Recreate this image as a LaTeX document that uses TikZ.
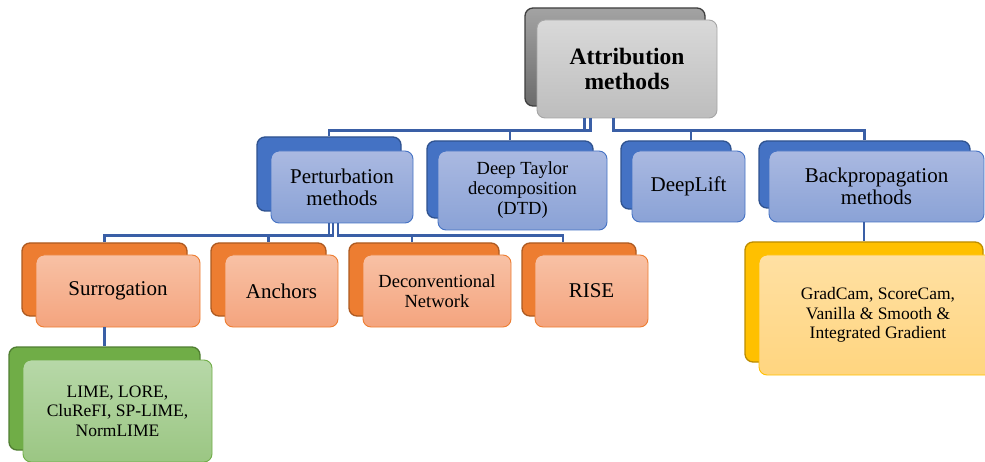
\documentclass[tikz,border=0pt]{standalone}
\usepackage{fontspec}
\setmainfont{LiberationSerif}[Extension=.ttf, UprightFont=*-Regular, BoldFont=*-Bold, ItalicFont=*-Italic, BoldItalicFont=*-BoldItalic]
\usetikzlibrary{calc,positioning}
\definecolor{greyhi}{HTML}{A3A3A3}
\definecolor{greyback}{HTML}{6B6B6B}
\definecolor{greyline}{HTML}{3F3F3F}
\definecolor{greytop}{HTML}{D9D9D9}
\definecolor{greybot}{HTML}{BDBDBD}
\definecolor{greyrim}{HTML}{A5A5A5}
\definecolor{bluehi}{HTML}{4472C4}
\definecolor{blueback}{HTML}{4472C4}
\definecolor{blueline}{HTML}{2F528F}
\definecolor{bluetop}{HTML}{AAB9E1}
\definecolor{bluebot}{HTML}{8AA2D6}
\definecolor{bluerim}{HTML}{4472C4}
\definecolor{orangehi}{HTML}{ED7D31}
\definecolor{orangeback}{HTML}{ED7D31}
\definecolor{orangeline}{HTML}{AE5A21}
\definecolor{orangetop}{HTML}{F8C1A5}
\definecolor{orangebot}{HTML}{F4A47E}
\definecolor{orangerim}{HTML}{ED7D31}
\definecolor{greenhi}{HTML}{70AD47}
\definecolor{greenback}{HTML}{70AD47}
\definecolor{greenline}{HTML}{507E32}
\definecolor{greentop}{HTML}{B7D8A8}
\definecolor{greenbot}{HTML}{9BC683}
\definecolor{greenrim}{HTML}{70AD47}
\definecolor{yellowhi}{HTML}{FFC000}
\definecolor{yellowback}{HTML}{FFC000}
\definecolor{yellowline}{HTML}{BC8C00}
\definecolor{yellowtop}{HTML}{FFE0A3}
\definecolor{yellowbot}{HTML}{FFD57F}
\definecolor{yellowrim}{HTML}{FFC000}
\definecolor{linkblue}{HTML}{3A5FA6}
\newcommand{\titlefont}{\bfseries\fontsize{23.5}{25}\selectfont}
\newcommand{\lvlfont}{\fontsize{21}{22}\selectfont}
\newcommand{\midfont}{\fontsize{18.5}{20}\selectfont}
\newcommand{\leaffont}{\fontsize{17.5}{19.5}\selectfont}
\tikzset{
    back/.style = {rectangle, rounded corners=8pt, inner sep=0pt, line width=1.3pt,
                   top color=#1hi, bottom color=#1back, draw=#1line},
    front/.style = {rectangle, rounded corners=8pt, inner sep=2pt, line width=0.9pt, align=center,
                    top color=#1top, bottom color=#1bot, draw=#1rim},
    link/.style = {draw=linkblue, line width=2.5pt}
}

\begin{document}
\begin{tikzpicture}[x=1pt,y=-1pt]
      \useasboundingbox (0,0) rectangle (985,462);

      \node[back=grey, minimum width=180pt, minimum height=98pt] (topb) at (615,57) {};
      \node[front=grey, minimum width=180pt, minimum height=98pt, font=\titlefont] (top) at (627,69) {Attribution\\methods};

      \node[back=blue, minimum width=144pt, minimum height=74pt] (pertb) at (329,174) {};
      \node[front=blue, minimum width=142pt, minimum height=72pt, font=\lvlfont] (pert) at (342,187) {Perturbation\\methods};
      \node[back=blue, minimum width=166pt, minimum height=77pt] (dtdb) at (510,179.5) {};
      \node[front=blue, minimum width=169pt, minimum height=79pt, font=\midfont] (dtd) at (522.5,190.5) {Deep Taylor\\decomposition\\(DTD)};
      \node[back=blue, minimum width=110pt, minimum height=68pt] (dlb) at (676,175) {};
      \node[front=blue, minimum width=113pt, minimum height=71pt, font=\lvlfont] (dl) at (688.5,186.5) {DeepLift};
      \node[back=blue, minimum width=211pt, minimum height=67pt] (bpb) at (864.5,174.5) {};
      \node[front=blue, minimum width=215pt, minimum height=71pt, font=\lvlfont] (bp) at (876.5,186.5) {Backpropagation\\methods};

      \node[back=orange, minimum width=165pt, minimum height=73pt] (surb) at (104.5,279.5) {};
      \node[front=orange, minimum width=164pt, minimum height=72pt, font=\lvlfont] (sur) at (118,291) {Surrogation};
      \node[back=orange, minimum width=115pt, minimum height=73pt] (ancb) at (268.5,279.5) {};
      \node[front=orange, minimum width=113pt, minimum height=72pt, font=\lvlfont] (anc) at (281.5,291) {Anchors};
      \node[back=orange, minimum width=150pt, minimum height=73pt] (decb) at (424,279.5) {};
      \node[front=orange, minimum width=148pt, minimum height=72pt, font=\midfont] (dec) at (437,291) {Deconventional\\Network};
      \node[back=orange, minimum width=114pt, minimum height=73pt] (riseb) at (579,279.5) {};
      \node[front=orange, minimum width=113pt, minimum height=72pt, font=\lvlfont] (rise) at (591.5,291) {RISE};

      \node[back=green, minimum width=191pt, minimum height=103pt] (limeb) at (104.5,398.5) {};
      \node[front=green, minimum width=189pt, minimum height=102pt, font=\leaffont] (lime) at (117.5,411) {LIME, LORE,\\CluReFI, SP-LIME,\\NormLIME};

      \node[back=yellow, minimum width=238pt, minimum height=120pt] (gcb) at (864,302) {};
      \node[front=yellow, minimum width=238pt, minimum height=120pt, font=\leaffont] (gc) at (878,315) {GradCam, ScoreCam,\\Vanilla \& Smooth \&\\Integrated Gradient};

      \draw[link] ([xshift=-42.5pt]top.south) -- ++(0,12) -| (pertb.north);
      \draw[link] ([xshift=-36.5pt]top.south) -- ++(0,12) -| (dtdb.north);
      \draw[link] ([xshift=-13.5pt]top.south) -- ++(0,12) -| ([xshift=15pt]dlb.north);
      \draw[link] ([xshift=-13.5pt]top.south) -- ++(0,12) -| (bpb.north);

      \draw[link] ([xshift=-13pt]pert.south) -- ++(0,12) -| (surb.north);
      \draw[link] ([xshift=-9pt]pert.south) -- ++(0,12) -| (ancb.north);
      \draw[link] ([xshift=-4pt]pert.south) -- ++(0,12) -| ([xshift=-12pt]decb.north);
      \draw[link] ([xshift=-4pt]pert.south) -- ++(0,12) -| ([xshift=-16pt]riseb.north);

      \draw[link] (limeb.north |- sur.south) -- (limeb.north);
      \draw[link] (gcb.north |- bp.south) -- (gcb.north);
    \end{tikzpicture}
\end{document}
